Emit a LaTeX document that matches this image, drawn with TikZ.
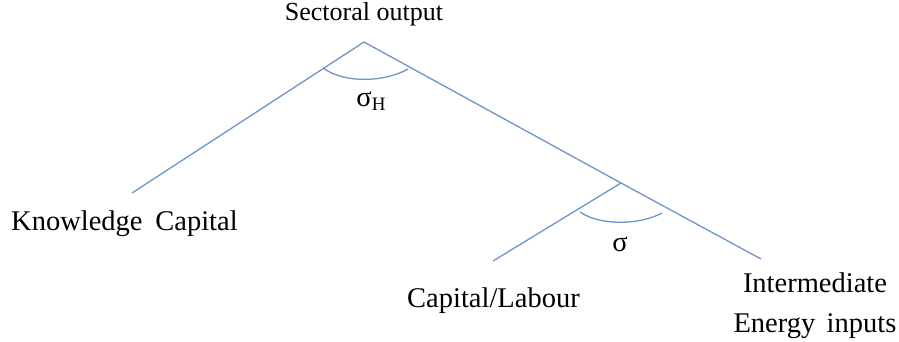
\documentclass[tikz,border=0pt]{standalone}
\usepackage{fontspec}
\setmainfont{Liberation Serif}
\definecolor{treeblue}{RGB}{110,148,200}
\tikzset{
  branch/.style={draw=treeblue, line width=1.3pt},
  elast/.style={draw=treeblue, line width=1.3pt},
  lbl/.style={inner sep=0pt, font=\fontsize{28.5}{40}\selectfont},
}
\begin{document}
\begin{tikzpicture}[x=1pt, y=-1pt]
        \useasboundingbox (0,0) rectangle (899,341);

        % Точки дерева
        \coordinate (top) at (364, 42);
        \coordinate (mid) at (621, 183);
        \coordinate (kend) at (132, 193);
        \coordinate (lend) at (493, 261);
        \coordinate (eend) at (761, 259);

        % Ветви
        \draw[branch] (top) -- (kend);
        \draw[branch] (top) -- (mid) -- (eend);
        \draw[branch] (mid) -- (lend);

        % Дуги эластичности
        \draw[elast] (323, 68) .. controls (345, 84) and (385, 82) .. (408, 69);
        \draw[elast] (580, 212) .. controls (600, 226) and (640, 225) .. (662, 213);

        % Подписи
        \node[lbl, font=\fontsize{26}{30}\selectfont] (out) at (364, 14) {Sectoral output};
        \node[lbl] (sigH) at (371, 101) {σ\raisebox{-0.35ex}{\fontsize{19}{19}\selectfont H}};
        \node[lbl] (sig) at (620, 244) {σ};
        \node[lbl, anchor=west] (know) at (11, 224) {Knowledge\hspace{0.45em}Capital};
        \node[lbl, anchor=west] (cl) at (407, 301) {Capital/Labour};
        \node[lbl, align=center, anchor=north] (ener) at (815, 273) {Intermediate\\Energy\hspace{0.4em}inputs};
\end{tikzpicture}
\end{document}
